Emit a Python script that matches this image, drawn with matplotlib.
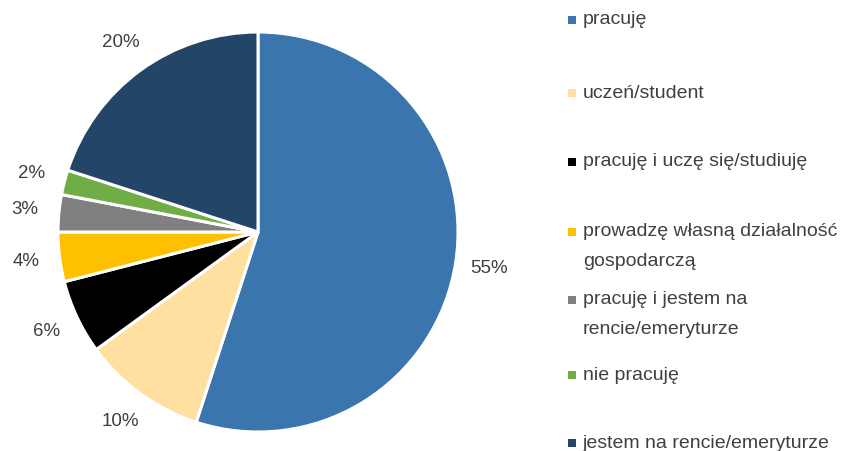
import matplotlib.pyplot as plt
from matplotlib.patches import Rectangle

labels = ['pracuję', 'uczeń/student', 'pracuję i uczę się/studiuję',
          'prowadzę własną działalność\ngospodarczą',
          'pracuję i jestem na\nrencie/emeryturze', 'nie pracuję',
          'jestem na rencie/emeryturze']
values = [55, 10, 6, 4, 3, 2, 20]
colors = ['#3A75AD', '#FFE0A0', '#000000', '#FFC000', '#808080', '#70AD47', '#234668']

plt.rcParams['font.family'] = ['Liberation Sans', 'DejaVu Sans']
txt_color = '#404040'

fig = plt.figure(figsize=(8.41, 4.51), dpi=100)
W, H = 841, 451

# pie axes placed on the pie's bounding box
ax = fig.add_axes([58 / W, (H - 432) / H, 400 / W, 400 / H])
wedges, texts = ax.pie(values, colors=colors, startangle=90, counterclock=False,
                       radius=1.0, labels=['%d%%' % v for v in values],
                       labeldistance=1.17,
                       wedgeprops=dict(edgecolor='white', linewidth=2.2),
                       textprops=dict(color=txt_color, fontsize=13.5))
for t in texts:
    t.set_ha('center')
    t.set_va('center')
ax.set_xlim(-1, 1)
ax.set_ylim(-1, 1)
ax.set_aspect('equal')
ax.axis('off')

# legend drawn by hand, markers sit on the first text line
legend_y = [20, 93, 162, 232, 300, 375, 443]
for lab, col, y in zip(labels, colors, legend_y):
    fig.patches.append(Rectangle((568 / W, (H - y - 4) / H), 8 / W, 8 / H,
                                 transform=fig.transFigure, facecolor=col,
                                 edgecolor='none'))
    lines = lab.split('\n')
    for i, line in enumerate(lines):
        fig.text(583 / W, (H - y - 29 * i) / H, line, color=txt_color,
                 fontsize=14, va='center', ha='left')

fig.savefig('out.png', dpi=100)
